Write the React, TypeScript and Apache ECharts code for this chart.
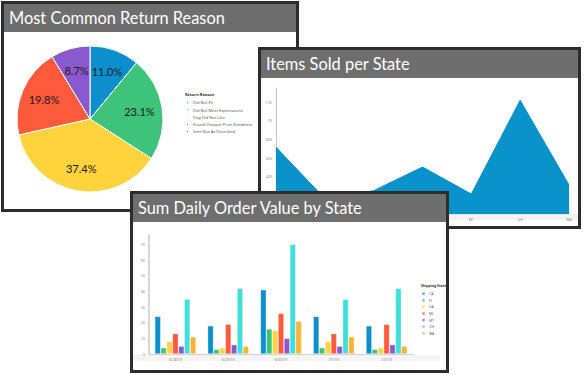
import React, { useEffect, useRef } from "react";
import * as echarts from "echarts";

// ---------- Data ----------
const pieTitle = "Most Common Return Reason";
const pieLegendTitle = "Return Reason";
const pieReasons = [
  "Did Not Fit",
  "Did Not Meet Expectations",
  "Dog Did Not Like",
  "Found Cheaper Price Elsewhere",
  "Item Not As Described",
];
const pieValues = [11.0, 23.1, 37.4, 19.8, 8.7];

const areaTitle = "Items Sold per State";
const areaAxisName = "Sum(Number of Items)";
const areaStates = ["CA", "FL", "GA", "MI", "MT", "OH", "WA"];
const areaValues = [716, 165, 250, 503, 214, 1219, 310];

const barTitle = "Sum Daily Order Value by State";
const barAxisName = "Sum(Daily Order Amount)";
const barLegendTitle = "Shipping State";
const barDates = ["6/28/19", "6/29/19", "6/30/19", "7/1/19", "7/2/19"];
const barStates = ["CA", "FL", "GA", "MI", "MT", "OH", "WA"];
const valuesCA = [24, 18, 41, 24, 18];
const valuesFL = [4, 3, 16, 4, 3];
const valuesGA = [8, 4, 15, 8, 4];
const valuesMI = [13, 19, 26, 13, 19];
const valuesMT = [5, 6, 10, 5, 6];
const valuesOH = [35, 42, 70, 35, 42];
const valuesWA = [11, 5, 21, 11, 5];
const barValues = [valuesCA, valuesFL, valuesGA, valuesMI, valuesMT, valuesOH, valuesWA];

// ---------- Styles ----------
const pieColors = ["#0c8fcd", "#3ec37b", "#fed33c", "#fc5a3b", "#8b59cf"];
const barColors = ["#0c8fcd", "#3ec37b", "#fed33c", "#fc5a3b", "#8b59cf", "#3fdfdc", "#fdb32f"];
const areaColor = "#0a92cb";
const headerColor = "#6e6e6e";
const borderColor = "#2c2c2c";
const titleFont = "16.4px Lato, sans-serif";
const tinyFont = "Noto Sans";

function headerGraphics(w: number, title: string) {
  return [
    { type: "rect", z: 100, shape: { x: 0, y: 0, width: w, height: 28 }, style: { fill: headerColor } },
    {
      type: "text",
      z: 101,
      x: 5,
      y: 13,
      style: { text: title, fill: "#ffffff", font: titleFont, verticalAlign: "middle", align: "left" },
    },
  ];
}

function Panel({ left, top, width, height, option }: any) {
  const ref = useRef<HTMLDivElement>(null);
  useEffect(() => {
    if (!ref.current) return;
    const chart = echarts.init(ref.current, undefined, { renderer: "svg" });
    chart.setOption(option);
    return () => chart.dispose();
  }, []);
  return (
    <div
      style={{
        position: "absolute",
        left,
        top,
        width,
        height,
        boxSizing: "border-box",
        border: `3px solid ${borderColor}`,
        background: "#fff",
      }}
    >
      <div ref={ref} style={{ width: width - 6, height: height - 6 }} />
    </div>
  );
}

// Panel 1: pie
const p1w = 298 - 6;
const pieOption: any = {
  animation: false,
  color: pieColors,
  graphic: [
    ...headerGraphics(p1w, pieTitle),
    {
      type: "text",
      x: 181,
      y: 90,
      style: { text: pieLegendTitle, fill: "#333", font: `bold 4px '${tinyFont}'`, verticalAlign: "middle" },
    },
  ],
  legend: {
    orient: "vertical",
    left: 181,
    top: 96.3,
    padding: 0,
    itemWidth: 3,
    itemHeight: 3,
    itemGap: 2.2,
    icon: "rect",
    textStyle: { fontSize: 4, color: "#555", fontFamily: tinyFont, padding: [0, 0, 0, -1] },
    data: pieReasons,
  },
  series: [
    {
      type: "pie",
      center: [86, 115],
      radius: [0, 73],
      startAngle: 90,
      clockwise: true,
      label: { show: false },
      labelLine: { show: false },
      itemStyle: { borderColor: "#fff", borderWidth: 1 },
      emphasis: { disabled: true },
      data: pieReasons.map((n, i) => ({ name: n, value: pieValues[i] })),
    },
    {
      type: "pie",
      center: [86, 115],
      radius: [21, 73],
      startAngle: 90,
      clockwise: true,
      silent: true,
      legendHoverLink: false,
      itemStyle: { color: "rgba(0,0,0,0)" },
      label: {
        show: true,
        position: "inside",
        color: "#1a1a1a",
        fontSize: 11,
        fontFamily: "Lato",
        formatter: (p: any) => p.value.toFixed(1) + "%",
      },
      labelLine: { show: false },
      emphasis: { disabled: true },
      data: pieReasons.map((n, i) => ({ name: n + " ", value: pieValues[i] })),
    },
  ],
};

// Panel 2: area
const p2w = 323 - 6;
const tinyAxisLabel = { fontSize: 3.5, color: "#888", fontFamily: tinyFont };
const areaOption: any = {
  animation: false,
  graphic: [
    ...headerGraphics(p2w, areaTitle),
    { type: "rect", z: -10, shape: { x: 3, y: 164, width: 314, height: 6 }, style: { fill: "#f4f4f4" } },
  ],
  grid: { left: 15, right: 9, top: 38, bottom: 12, outerBoundsMode: "none", containLabel: false },
  xAxis: {
    type: "category",
    data: areaStates,
    boundaryGap: false,
    axisLine: { lineStyle: { color: "#dcdcdc", width: 1.5 } },
    axisTick: { show: false },
    axisLabel: { ...tinyAxisLabel, margin: 3 },
  },
  yAxis: {
    type: "value",
    min: 0,
    max: 1350,
    interval: 200,
    name: areaAxisName,
    nameLocation: "middle",
    nameGap: 10,
    nameTextStyle: { fontSize: 3.5, color: "#666", fontFamily: tinyFont },
    axisLine: { show: true, lineStyle: { color: "#c8c8c8", width: 1.2 } },
    axisTick: { show: false },
    splitLine: { show: false },
    axisLabel: {
      ...tinyAxisLabel,
      margin: 4,
      showMaxLabel: false,
      showMinLabel: false,
      formatter: (v: number) => (v >= 1000 ? v / 1000 + "K" : String(v)),
    },
  },
  series: [
    {
      type: "line",
      data: areaValues,
      symbol: "none",
      lineStyle: { color: areaColor, width: 1 },
      itemStyle: { color: areaColor },
      areaStyle: { color: areaColor, opacity: 1 },
    },
  ],
};

// Panel 3: bars
const p3w = 319 - 6;
const barOption: any = {
  animation: false,
  color: barColors,
  graphic: [
    ...headerGraphics(p3w, barTitle),
    { type: "rect", z: -10, shape: { x: 0, y: 161, width: 307, height: 6 }, style: { fill: "#f4f4f4" } },
    {
      type: "text",
      x: 288,
      y: 91,
      style: { text: barLegendTitle, fill: "#333", font: `bold 3.5px '${tinyFont}'`, verticalAlign: "middle" },
    },
  ],
  legend: {
    orient: "vertical",
    left: 288,
    top: 97.2,
    padding: 0,
    itemWidth: 3,
    itemHeight: 3,
    itemGap: 1.6,
    icon: "rect",
    textStyle: { fontSize: 3.5, color: "#666", fontFamily: tinyFont, padding: [0, 0, 0, -1] },
    data: barStates,
  },
  grid: { left: 16, right: 33, top: 41, bottom: 16, outerBoundsMode: "none", containLabel: false },
  xAxis: {
    type: "category",
    data: barDates,
    axisLine: { lineStyle: { color: "#cfcfcf", width: 1.2 } },
    axisTick: { show: false },
    axisLabel: { ...tinyAxisLabel, margin: 3 },
  },
  yAxis: {
    type: "value",
    min: 0,
    max: 76,
    interval: 10,
    name: barAxisName,
    nameLocation: "middle",
    nameGap: 8,
    nameTextStyle: { fontSize: 3.5, color: "#666", fontFamily: tinyFont },
    axisLine: { show: true, lineStyle: { color: "#c8c8c8", width: 1.5 } },
    axisTick: { show: false },
    splitLine: { show: false },
    axisLabel: { ...tinyAxisLabel, margin: 4, showMaxLabel: false },
  },
  series: barStates.map((s, i) => ({
    type: "bar",
    name: s,
    data: barValues[i],
    barGap: "0%",
    barCategoryGap: "22%",
    itemStyle: { color: barColors[i], borderColor: "rgba(255,255,255,0.55)", borderWidth: 0.6 },
  })),
};

export default function App() {
  return (
    <div style={{ position: "fixed", left: 0, top: 0, width: 584, height: 375, background: "#fff", overflow: "hidden" }}>
      <Panel left={1} top={1} width={298} height={211} option={pieOption} />
      <Panel left={258} top={47} width={323} height={182} option={areaOption} />
      <Panel left={130} top={191} width={319} height={182} option={barOption} />
    </div>
  );
}
